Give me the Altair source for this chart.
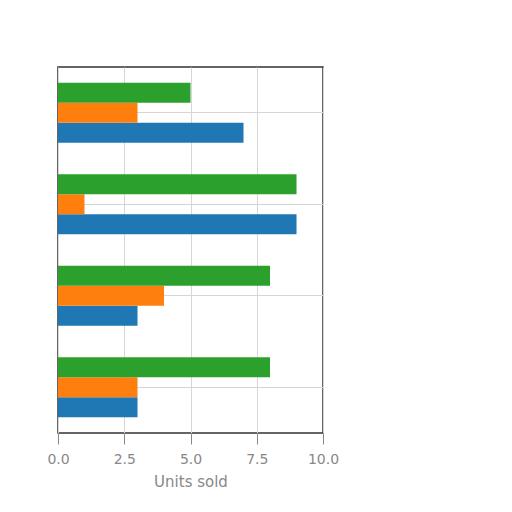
import altair as alt
import pandas as pd

categories = ["A", "B", "C", "D"]
series = ["Blue", "Orange", "Green"]
blue_vals = [7, 9, 3, 3]
orange_vals = [3, 1, 4, 3]
green_vals = [5, 9, 8, 8]
colors = ["#1f77b4", "#ff7f0e", "#2ca02c"]
x_ticks = [0, 2.5, 5, 7.5, 10]

rows = []
for s, vals in zip(series, [blue_vals, orange_vals, green_vals]):
    for c, v in zip(categories, vals):
        rows.append({"category": c, "series": s, "value": v})
df = pd.DataFrame(rows)

chart = alt.Chart(df).mark_bar().encode(
    x=alt.X("value:Q", scale=alt.Scale(domain=[0, 10], nice=False),
            axis=alt.Axis(title="Units sold", values=x_ticks, format=".1f",
                          labelColor="#888", titleColor="#888", labelFontSize=14,
                          titleFontSize=15, titleFontWeight="normal", tickColor="#888",
                          tickSize=11, labelFlush=False,
                          domain=False, gridColor="#d6d6d6", labelPadding=8, titlePadding=8,
                          labelFont="DejaVu Sans", titleFont="DejaVu Sans")),
    y=alt.Y("category:N", sort=categories,
            scale=alt.Scale(paddingInner=0.344, paddingOuter=0.172),
            axis=alt.Axis(title=None, labels=False, ticks=False, domain=False,
                          gridColor="#d6d6d6", grid=True, bandPosition=0.5)),
    yOffset=alt.YOffset("series:N", sort=["Green", "Orange", "Blue"]),
    color=alt.Color("series:N", scale=alt.Scale(domain=series, range=colors), legend=None),
).properties(
    width=265, height=366,
    padding={"left": 38, "top": 59, "right": 5, "bottom": 5},
).configure_view(
    stroke="#333333", strokeWidth=1.5
).configure_axis(
    gridWidth=1
)

chart.save("out.html", embed_options={"renderer": "svg", "actions": False})
